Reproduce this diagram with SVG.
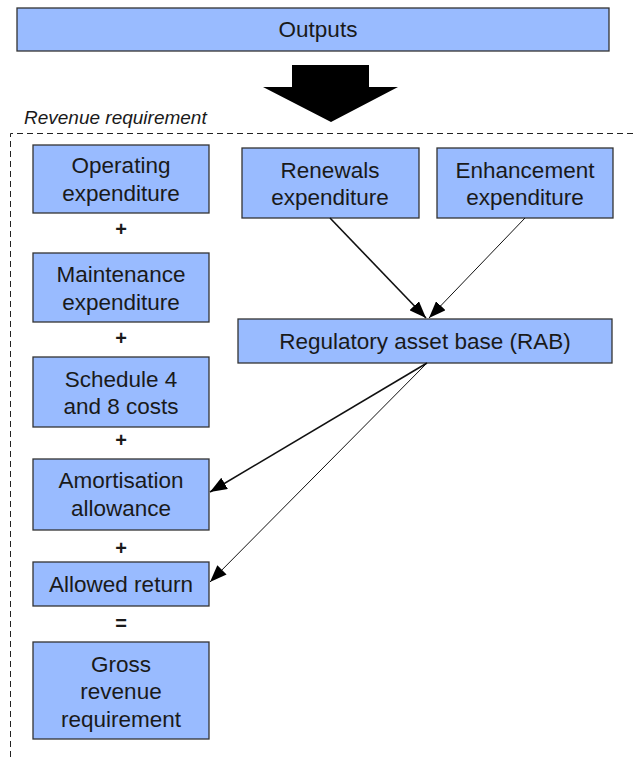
<svg xmlns="http://www.w3.org/2000/svg" width="634" height="757" viewBox="0 0 634 757">
  <style>
    .box { fill: #99bbff; stroke: #333333; stroke-width: 1.3; }
    .lbl { font-family: "Liberation Sans", Arial, sans-serif; font-size: 22.5px; fill: #1a1a1a; text-anchor: middle; }
    .op { font-family: "Liberation Sans", Arial, sans-serif; font-size: 20px; font-weight: bold; fill: #1a1a1a; text-anchor: middle; }
    .edge { fill: none; stroke: #111111; }
    .frame { fill: none; stroke: #222222; stroke-width: 1; stroke-dasharray: 6 4; }
  </style>
  <defs>
    <marker id="arrowhead" viewBox="0 0 17 13" refX="17" refY="6.5" markerWidth="17" markerHeight="13" markerUnits="userSpaceOnUse" orient="auto">
      <path d="M0,0 L17,6.5 L0,13 Z" fill="#000000"/>
    </marker>
  </defs>

  <rect width="634" height="757" fill="#ffffff"/>

  <g id="outputs">
    <rect class="box" x="17" y="8" width="592" height="43"/>
    <text class="lbl" x="318" y="37" font-size="22">Outputs</text>
  </g>

  <g id="flow-arrow">
    <polygon points="292,65 369,65 369,87 398,87 331,122 263,87 292,87" fill="#000000"/>
  </g>

  <g id="revenue-frame">
    <path class="frame" d="M10.5,757 L10.5,133.5 L634,133.5"/>
    <text x="24" y="124" font-family="Liberation Sans, Arial, sans-serif" font-size="19" font-style="italic" fill="#1a1a1a">Revenue requirement</text>
  </g>

  <g id="operating">
    <rect class="box" x="33" y="145" width="176" height="68"/>
    <text class="lbl" x="121" y="173">Operating</text>
    <text class="lbl" x="121" y="201">expenditure</text>
  </g>
  <text class="op" x="121" y="236">+</text>

  <g id="maintenance">
    <rect class="box" x="33" y="253" width="176" height="69"/>
    <text class="lbl" x="121" y="282">Maintenance</text>
    <text class="lbl" x="121" y="310">expenditure</text>
  </g>
  <text class="op" x="121" y="345">+</text>

  <g id="schedule">
    <rect class="box" x="33" y="357" width="176" height="70"/>
    <text class="lbl" x="121" y="387">Schedule 4</text>
    <text class="lbl" x="121" y="414">and 8 costs</text>
  </g>
  <text class="op" x="121" y="447">+</text>

  <g id="amortisation">
    <rect class="box" x="33" y="459" width="176" height="71"/>
    <text class="lbl" x="121" y="488">Amortisation</text>
    <text class="lbl" x="121" y="516">allowance</text>
  </g>
  <text class="op" x="121" y="555">+</text>

  <g id="allowed-return">
    <rect class="box" x="33" y="562" width="176" height="44"/>
    <text class="lbl" x="121" y="592">Allowed return</text>
  </g>
  <text class="op" x="121" y="630">=</text>

  <g id="gross-revenue">
    <rect class="box" x="33" y="642" width="176" height="97"/>
    <text class="lbl" x="121" y="672">Gross</text>
    <text class="lbl" x="121" y="699">revenue</text>
    <text class="lbl" x="121" y="727">requirement</text>
  </g>

  <g id="renewals">
    <rect class="box" x="242" y="148" width="177" height="70"/>
    <text class="lbl" x="330" y="178">Renewals</text>
    <text class="lbl" x="330" y="205">expenditure</text>
  </g>

  <g id="enhancement">
    <rect class="box" x="437" y="148" width="176" height="70"/>
    <text class="lbl" x="525" y="178">Enhancement</text>
    <text class="lbl" x="525" y="205">expenditure</text>
  </g>

  <g id="rab">
    <rect class="box" x="238" y="319" width="374" height="44"/>
    <text class="lbl" x="425" y="349">Regulatory asset base (RAB)</text>
  </g>

  <g id="connectors">
    <line class="edge" x1="330" y1="218" x2="426" y2="318" stroke-width="1.6" marker-end="url(#arrowhead)"/>
    <line class="edge" x1="525" y1="218" x2="429" y2="318" stroke-width="1" marker-end="url(#arrowhead)"/>
    <line class="edge" x1="427" y1="363" x2="210" y2="492" stroke-width="1.6" marker-end="url(#arrowhead)"/>
    <line class="edge" x1="427" y1="363" x2="210" y2="582" stroke-width="1" marker-end="url(#arrowhead)"/>
  </g>
</svg>
